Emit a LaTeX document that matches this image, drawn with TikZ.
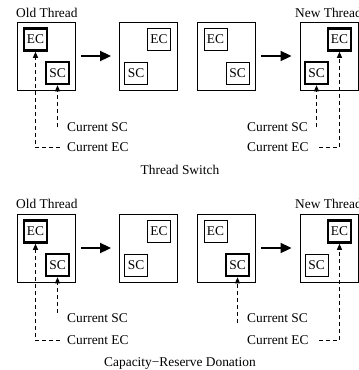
\documentclass[tikz,border=0pt]{standalone}
\usepackage{fontspec}
\setmainfont{Liberation Serif}
\usetikzlibrary{arrows.meta}
\begin{document}
\begin{tikzpicture}[x=1pt,y=-1pt,
  every node/.style={font=\fontsize{13.4}{16}\selectfont},
  outerbox/.style={draw, line width=0.9pt, minimum width=58pt, minimum height=68pt, inner sep=0pt},
  plainbox/.style={draw, line width=0.9pt, minimum width=23pt, minimum height=22pt, inner sep=0pt},
  boldbox/.style={plainbox, line width=2.6pt},
  lbl/.style={anchor=west, inner sep=0pt},
  bigarrow/.style={line width=2pt, -{Triangle[length=11pt,width=10pt]}, shorten <=6pt, shorten >=8pt},
  dasharrow/.style={line width=1pt, dash pattern=on 4pt off 3pt, -{Triangle[length=6pt,width=5pt]}}
]
\useasboundingbox (0,0) rectangle (359,370);

% ---------- Top row: Thread Switch ----------
\node[lbl] (old1) at (16,13) {Old Thread};
\node[lbl] (new1) at (295,13) {New Thread};
\node[outerbox] (b1) at (46,56) {};
\node[outerbox] (b2) at (148.5,56) {};
\node[outerbox] (b3) at (226,56) {};
\node[outerbox] (b4) at (329,56) {};

\node[boldbox]  (ec1) at (35.5,39.5) {EC};
\node[boldbox]  (sc1) at (57.5,73) {SC};
\node[plainbox] (ec2) at (159,39.5) {EC};
\node[plainbox] (sc2) at (136,73) {SC};
\node[plainbox] (ec3) at (215.5,39.5) {EC};
\node[plainbox] (sc3) at (237.5,73) {SC};
\node[boldbox]  (ec4) at (339.5,39.5) {EC};
\node[boldbox]  (sc4) at (316.5,73) {SC};

\draw[bigarrow] (b1.east) -- (b2.west);
\draw[bigarrow] (b3.east) -- (b4.west);

\node[lbl] (csc1) at (67,127) {Current SC};
\node[lbl] (cec1) at (67,147) {Current EC};
\node[lbl] (csc2) at (247,127) {Current SC};
\node[lbl] (cec2) at (247,147) {Current EC};

\draw[dasharrow] (sc1.south |- csc1.center) -- (sc1.south);
\draw[dasharrow] ([xshift=-7pt]cec1.west) -| (ec1.south);
\draw[dasharrow] (sc4.south |- csc2.center) -- (sc4.south);
\draw[dasharrow] ([xshift=10pt]cec2.east) -| (ec4.south);

\node (t1) at (180,170) {Thread Switch};

% ---------- Bottom row: Capacity-Reserve Donation ----------
\node[lbl] (old2) at (16,204) {Old Thread};
\node[lbl] (new2) at (295,204) {New Thread};
\node[outerbox] (b5) at (46,248) {};
\node[outerbox] (b6) at (148.5,248) {};
\node[outerbox] (b7) at (226,248) {};
\node[outerbox] (b8) at (329,248) {};

\node[boldbox]  (ec5) at (35.5,231.5) {EC};
\node[boldbox]  (sc5) at (57.5,265) {SC};
\node[plainbox] (ec6) at (159,231.5) {EC};
\node[plainbox] (sc6) at (136,265) {SC};
\node[plainbox] (ec7) at (215.5,231.5) {EC};
\node[boldbox]  (sc7) at (237.5,265) {SC};
\node[boldbox]  (ec8) at (339.5,231.5) {EC};
\node[plainbox] (sc8) at (316.5,265) {SC};

\draw[bigarrow] (b5.east) -- (b6.west);
\draw[bigarrow] (b7.east) -- (b8.west);

\node[lbl] (csc3) at (67,318) {Current SC};
\node[lbl] (cec3) at (67,340) {Current EC};
\node[lbl] (csc4) at (247,318) {Current SC};
\node[lbl] (cec4) at (247,340) {Current EC};

\draw[dasharrow] ([yshift=5pt]sc5.south |- csc3.center) -- (sc5.south);
\draw[dasharrow] ([xshift=-7pt]cec3.west) -| (ec5.south);
\draw[dasharrow] ([yshift=-5pt]sc7.south |- csc4.center) -- (sc7.south);
\draw[dasharrow] ([xshift=10pt]cec4.east) -| (ec8.south);

\node (t2) at (180,364) {Capacity−Reserve Donation};
\end{tikzpicture}
\end{document}
